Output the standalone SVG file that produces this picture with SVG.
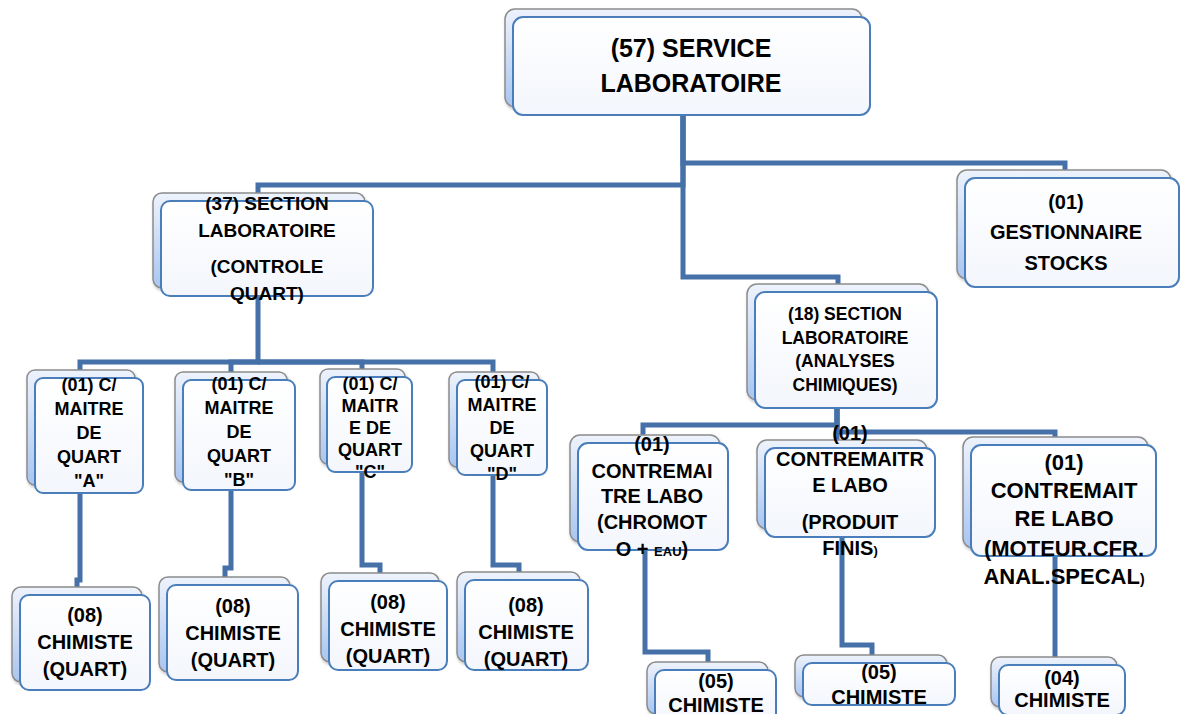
<svg xmlns="http://www.w3.org/2000/svg" width="1181" height="714" viewBox="0 0 1181 714">
<defs>
<linearGradient id="gb" x1="0" y1="0" x2="0" y2="1">
<stop offset="0" stop-color="#eef3fc"/>
<stop offset="1" stop-color="#a9c5f0"/>
</linearGradient>
<linearGradient id="gf" x1="0" y1="0" x2="0" y2="1">
<stop offset="0" stop-color="#ffffff"/>
<stop offset="1" stop-color="#f3f6fc"/>
</linearGradient>
<filter id="sh" x="-10%" y="-10%" width="130%" height="130%">
<feDropShadow dx="1" dy="2" stdDeviation="1.5" flood-color="#000" flood-opacity="0.25"/>
</filter>
<style>
.back{fill:url(#gb);stroke:#8c8c8c;stroke-width:1.5;filter:url(#sh)}
.front{fill:url(#gf);stroke:#4a7ebb;stroke-width:2}
.t{font-family:"Liberation Sans",Arial,sans-serif;font-weight:bold;fill:#000;text-anchor:middle}
.c{fill:none;stroke:#4570a8;stroke-width:5}
</style>
</defs>
<rect width="1181" height="714" fill="#fff"/>
<g id="connectors">
<path class="c" d="M683,115 V185 H258 V201"/>
<path class="c" d="M683,115 V163 H1065 V178"/>
<path class="c" d="M683,115 V277 H838 V292"/>
<path class="c" d="M258,296 V362 H80 V378"/>
<path class="c" d="M258,362 H231 V380"/>
<path class="c" d="M258,362 H362 V377"/>
<path class="c" d="M258,362 H493 V380"/>
<path class="c" d="M80,493 V580 H77 V595"/>
<path class="c" d="M231,490 V568 H225 V585"/>
<path class="c" d="M362,472 V565 H380 V581"/>
<path class="c" d="M493,475 V565 H519 V580"/>
<path class="c" d="M837,408 V425 H643 V443"/>
<path class="c" d="M837,408 V432 H1055 V445"/>
<path class="c" d="M837,408 V448"/>
<path class="c" d="M645,550 V652 H708 V670"/>
<path class="c" d="M842,537 V645 H872 V663"/>
<path class="c" d="M1055,556 V665"/>
</g>
<g id="n-service">
<rect class="back" x="505" y="9" width="357" height="98" rx="10"/>
<rect class="front" x="513" y="17" width="357" height="98" rx="10"/>
<text class="t" font-size="25" x="691" y="57">(57) SERVICE</text>
<text class="t" font-size="25" x="691" y="92">LABORATOIRE</text>
</g>
<g id="n-sec37">
<rect class="back" x="153" y="193" width="212" height="95" rx="9"/>
<rect class="front" x="161" y="201" width="212" height="95" rx="9"/>
<text class="t" font-size="19" x="267" y="210">(37) SECTION</text>
<text class="t" font-size="19" x="267" y="237">LABORATOIRE</text>
<text class="t" font-size="19" x="267" y="273">(CONTROLE</text>
<text class="t" font-size="19" x="267" y="300">QUART)</text>
</g>
<g id="n-gest">
<rect class="back" x="957" y="170" width="214" height="109" rx="10"/>
<rect class="front" x="965" y="178" width="214" height="109" rx="10"/>
<text class="t" font-size="20" x="1066" y="209">(01)</text>
<text class="t" font-size="20" x="1066" y="239">GESTIONNAIRE</text>
<text class="t" font-size="20" x="1066" y="270">STOCKS</text>
</g>
<g id="n-sec18">
<rect class="back" x="747" y="284" width="182" height="116" rx="10"/>
<rect class="front" x="755" y="292" width="182" height="116" rx="10"/>
<text class="t" font-size="17.5" x="845" y="320">(18) SECTION</text>
<text class="t" font-size="17.5" x="845" y="344">LABORATOIRE</text>
<text class="t" font-size="17.5" x="845" y="367">(ANALYSES</text>
<text class="t" font-size="17.5" x="845" y="391">CHIMIQUES)</text>
</g>
<g id="n-quartA">
<rect class="back" x="27" y="370" width="108" height="115" rx="8"/>
<rect class="front" x="35" y="378" width="108" height="115" rx="8"/>
<text class="t" font-size="18" x="89" y="391">(01) C/</text>
<text class="t" font-size="18" x="89" y="415">MAITRE</text>
<text class="t" font-size="18" x="89" y="439">DE</text>
<text class="t" font-size="18" x="89" y="463">QUART</text>
<text class="t" font-size="18" x="89" y="487">"A"</text>
</g>
<g id="n-quartB">
<rect class="back" x="175" y="372" width="112" height="110" rx="8"/>
<rect class="front" x="183" y="380" width="112" height="110" rx="8"/>
<text class="t" font-size="18" x="239" y="390">(01) C/</text>
<text class="t" font-size="18" x="239" y="414">MAITRE</text>
<text class="t" font-size="18" x="239" y="438">DE</text>
<text class="t" font-size="18" x="239" y="462">QUART</text>
<text class="t" font-size="18" x="239" y="486">"B"</text>
</g>
<g id="n-quartC">
<rect class="back" x="320" y="369" width="85" height="95" rx="8"/>
<rect class="front" x="327" y="377" width="85" height="95" rx="8"/>
<text class="t" font-size="18" x="370" y="390">(01) C/</text>
<text class="t" font-size="18" x="370" y="412">MAITR</text>
<text class="t" font-size="18" x="370" y="434">E DE</text>
<text class="t" font-size="18" x="370" y="456">QUART</text>
<text class="t" font-size="18" x="370" y="478">"C"</text>
</g>
<g id="n-quartD">
<rect class="back" x="449" y="372" width="90" height="95" rx="8"/>
<rect class="front" x="457" y="380" width="90" height="95" rx="8"/>
<text class="t" font-size="18" x="502" y="388">(01) C/</text>
<text class="t" font-size="18" x="502" y="411">MAITRE</text>
<text class="t" font-size="18" x="502" y="434">DE</text>
<text class="t" font-size="18" x="502" y="457">QUART</text>
<text class="t" font-size="18" x="502" y="480">"D"</text>
</g>
<g id="n-chimA">
<rect class="back" x="12" y="587" width="130" height="95" rx="9"/>
<rect class="front" x="20" y="595" width="130" height="95" rx="9"/>
<text class="t" font-size="20" x="85" y="622">(08)</text>
<text class="t" font-size="20" x="85" y="649">CHIMISTE</text>
<text class="t" font-size="20" x="85" y="676">(QUART)</text>
</g>
<g id="n-chimB">
<rect class="back" x="159" y="577" width="131" height="95" rx="9"/>
<rect class="front" x="167" y="585" width="131" height="95" rx="9"/>
<text class="t" font-size="20" x="233" y="613">(08)</text>
<text class="t" font-size="20" x="233" y="640">CHIMISTE</text>
<text class="t" font-size="20" x="233" y="667">(QUART)</text>
</g>
<g id="n-chimC">
<rect class="back" x="321" y="573" width="118" height="89" rx="9"/>
<rect class="front" x="329" y="581" width="118" height="89" rx="9"/>
<text class="t" font-size="20" x="388" y="609">(08)</text>
<text class="t" font-size="20" x="388" y="636">CHIMISTE</text>
<text class="t" font-size="20" x="388" y="663">(QUART)</text>
</g>
<g id="n-chimD">
<rect class="back" x="457" y="572" width="123" height="90" rx="9"/>
<rect class="front" x="465" y="580" width="123" height="90" rx="9"/>
<text class="t" font-size="20" x="526" y="612">(08)</text>
<text class="t" font-size="20" x="526" y="639">CHIMISTE</text>
<text class="t" font-size="20" x="526" y="666">(QUART)</text>
</g>
<g id="n-cm1">
<rect class="back" x="570" y="435" width="150" height="107" rx="10"/>
<rect class="front" x="578" y="443" width="150" height="107" rx="10"/>
<text class="t" font-size="20" x="652" y="451">(01)</text>
<text class="t" font-size="20" x="652" y="478">CONTREMAI</text>
<text class="t" font-size="20" x="652" y="503">TRE LABO</text>
<text class="t" font-size="20" x="652" y="529">(CHROMOT</text>
<text class="t" font-size="20" x="652" y="556">O + <tspan font-size="13">EAU</tspan>)</text>
</g>
<g id="n-cm2">
<rect class="back" x="757" y="440" width="170" height="89" rx="10"/>
<rect class="front" x="765" y="448" width="170" height="89" rx="10"/>
<text class="t" font-size="20" x="850" y="440">(01)</text>
<text class="t" font-size="20" x="850" y="466">CONTREMAITR</text>
<text class="t" font-size="20" x="850" y="492">E LABO</text>
<text class="t" font-size="20" x="850" y="529">(PRODUIT</text>
<text class="t" font-size="20" x="850" y="555">FINIS<tspan font-size="13">)</tspan></text>
</g>
<g id="n-cm3">
<rect class="back" x="963" y="437" width="185" height="111" rx="10"/>
<rect class="front" x="971" y="445" width="185" height="111" rx="10"/>
<text class="t" font-size="22" x="1064" y="470">(01)</text>
<text class="t" font-size="22" x="1064" y="498">CONTREMAIT</text>
<text class="t" font-size="22" x="1064" y="526">RE LABO</text>
<text class="t" font-size="22" x="1064" y="556">(MOTEUR.CFR.</text>
<text class="t" font-size="22" x="1064" y="584">ANAL.SPECAL<tspan font-size="14">)</tspan></text>
</g>
<g id="n-r1">
<rect class="back" x="647" y="662" width="121" height="52" rx="9"/>
<rect class="front" x="655" y="670" width="121" height="52" rx="9"/>
<text class="t" font-size="20" x="716" y="688">(05)</text>
<text class="t" font-size="20" x="716" y="712">CHIMISTE</text>
</g>
<g id="n-r2">
<rect class="back" x="795" y="655" width="152" height="42" rx="9"/>
<rect class="front" x="803" y="663" width="152" height="42" rx="9"/>
<text class="t" font-size="20" x="879" y="679">(05)</text>
<text class="t" font-size="20" x="879" y="704">CHIMISTE</text>
</g>
<g id="n-r3">
<rect class="back" x="991" y="657" width="126" height="50" rx="9"/>
<rect class="front" x="999" y="665" width="126" height="50" rx="9"/>
<text class="t" font-size="20" x="1062" y="685">(04)</text>
<text class="t" font-size="20" x="1062" y="707">CHIMISTE</text>
</g>
</svg>
